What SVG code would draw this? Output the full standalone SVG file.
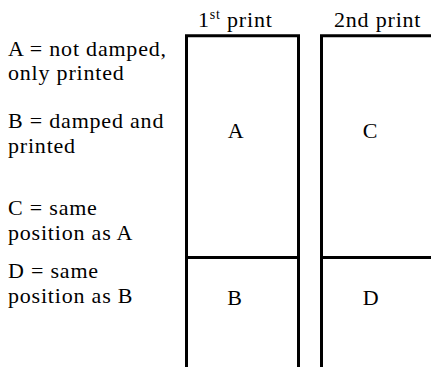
<svg xmlns="http://www.w3.org/2000/svg" width="431" height="367" viewBox="0 0 431 367">
<style>
.t{font-family:"Liberation Serif","Times New Roman",serif;font-size:22px;letter-spacing:0.8px;fill:#000}
.ln{fill:none;stroke:#000;stroke-width:3;stroke-linejoin:miter;stroke-linecap:butt}
.c{text-anchor:middle}
</style>
<rect width="431" height="367" fill="#fff"/>
<g id="legend">
<text class="t" x="8" y="56">A = not damped,</text>
<text class="t" x="8" y="80">only printed</text>
<text class="t" x="8" y="128">B = damped and</text>
<text class="t" x="8" y="153">printed</text>
<text class="t" x="8" y="215">C = same</text>
<text class="t" x="8" y="240">position as A</text>
<text class="t" x="8" y="278">D = same</text>
<text class="t" x="8" y="303">position as B</text>
</g>
<g id="print1">
<text class="t" x="198" y="27">1<tspan font-size="14" dy="-8">st</tspan><tspan dy="8"> print</tspan></text>
<path class="ln" d="M186.5,367 V35.8 H298.5 V367"/>
<path class="ln" d="M186.5,257.5 H298.5"/>
<text class="t c" x="236" y="138">A</text>
<text class="t c" x="235" y="305">B</text>
</g>
<g id="print2">
<text class="t" x="334" y="27">2nd print</text>
<path class="ln" d="M321.5,367 V35.8 H431"/>
<path class="ln" d="M321.5,257.5 H431"/>
<text class="t c" x="370.5" y="138">C</text>
<text class="t c" x="371" y="305">D</text>
</g>
</svg>
